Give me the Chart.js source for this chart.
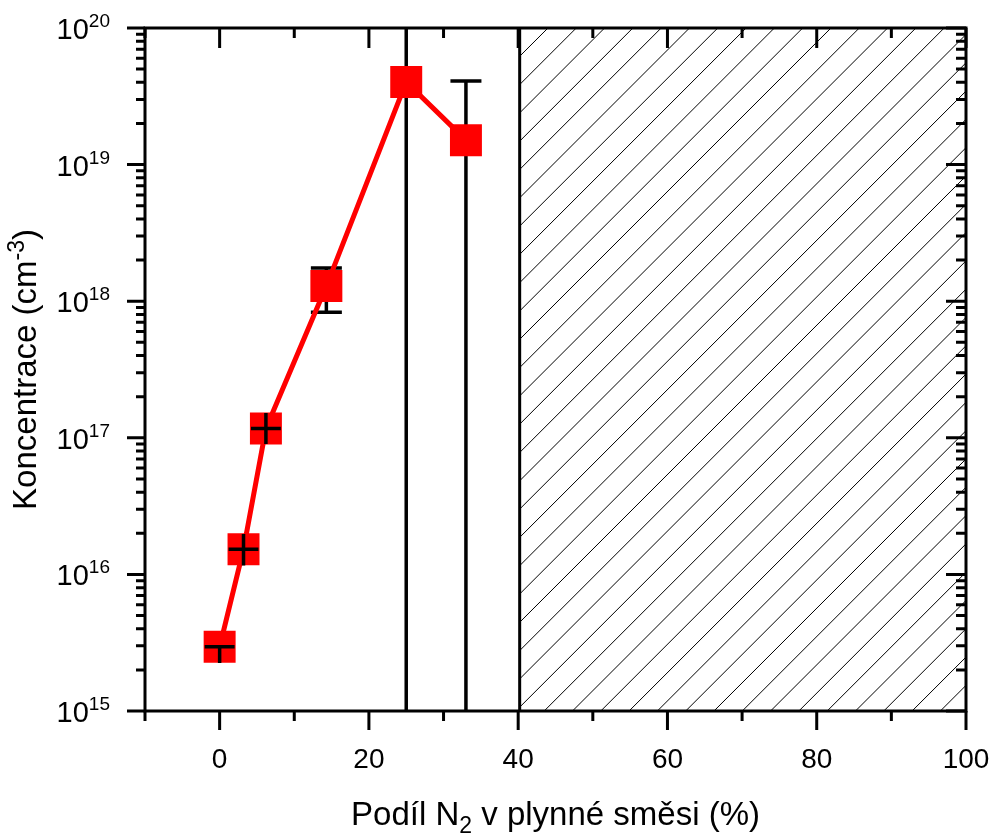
<!DOCTYPE html>
<html>
<head>
<meta charset="utf-8">
<script src="https://cdn.jsdelivr.net/npm/chart.js@4/dist/chart.umd.min.js"></script>
<style>
  html, body { margin: 0; padding: 0; background: #ffffff; }
  canvas { display: block; }
</style>
</head>
<body>
<canvas id="c" width="993" height="834"></canvas>
<script>
// N2 fraction in the gas mixture (%) and measured carrier concentration (cm^-3)
const nitrogenShare = [0, 3.2, 6.2, 14.3, 25, 33];
const concentration = [2.95e15, 1.53e16, 1.17e17, 1.29e18, 4.03e19, 1.51e19];
// concentration uncertainty (cm^-3), below and above the value
const concErrMinus = [0.7e15, 0.37e16, 0.27e17, 0.46e18, 8e19, 2.6e19];
const concErrPlus  = [0, 0.45e16, 0.35e17, 0.46e18, 8e19, 2.58e19];
// N2 fraction uncertainty (%)
const shareErr = [2, 2, 2, 0, 0, 0];

// axis ticks
const xMajorTicks = [0, 20, 40, 60, 80, 100];
const xMinorTicks = [-10, 10, 30, 50, 70, 90];
const yDecades = [15, 16, 17, 18, 19, 20];
const yMinorMultipliers = [2, 3, 4, 5, 6, 7, 8, 9];

// excluded range of the N2 fraction (hatched)
const hatchFrom = 40.2;
const hatchTo = 100;

const FONT = '"Liberation Sans", Arial, Helvetica, sans-serif';

const overlay = {
  id: 'overlay',
  beforeDatasetsDraw(chart) {
    const { ctx, chartArea: a, scales: { x, y } } = chart;
    ctx.save();
    ctx.beginPath();
    ctx.rect(a.left, a.top, a.right - a.left, a.bottom - a.top);
    ctx.clip();

    // hatched region
    const hx0 = x.getPixelForValue(hatchFrom);
    const hx1 = x.getPixelForValue(hatchTo);
    ctx.save();
    ctx.beginPath();
    ctx.rect(hx0, a.top, hx1 - hx0, a.bottom - a.top);
    ctx.clip();
    ctx.strokeStyle = '#000';
    ctx.lineWidth = 1;
    const h = a.bottom - a.top;
    const step = 28.3;
    ctx.beginPath();
    for (let sx = hx0; sx < hx1 + h; sx += step) {
      ctx.moveTo(sx, a.top);
      ctx.lineTo(sx - h, a.bottom);
    }
    ctx.stroke();
    ctx.restore();
    ctx.lineWidth = 3;
    ctx.beginPath();
    ctx.moveTo(hx0, a.top);
    ctx.lineTo(hx0, a.bottom);
    ctx.stroke();

    // capped concentration error bars, behind the markers
    ctx.strokeStyle = '#000';
    ctx.lineWidth = 3.5;
    nitrogenShare.forEach((v, i) => {
      if (shareErr[i] > 0) return;
      const px = x.getPixelForValue(v);
      const lo = concentration[i] - concErrMinus[i];
      const hi = concentration[i] + concErrPlus[i];
      const pyLo = lo > 0 ? y.getPixelForValue(lo) : a.bottom + 10;
      const pyHi = y.getPixelForValue(hi);
      ctx.beginPath();
      ctx.moveTo(px, pyLo);
      ctx.lineTo(px, pyHi);
      ctx.moveTo(px - 15.5, pyLo);
      ctx.lineTo(px + 15.5, pyLo);
      ctx.moveTo(px - 15.5, pyHi);
      ctx.lineTo(px + 15.5, pyHi);
      ctx.stroke();
    });
    ctx.restore();
  },
  afterDatasetsDraw(chart) {
    const { ctx, chartArea: a, scales: { x, y } } = chart;
    ctx.save();
    ctx.strokeStyle = '#000';
    ctx.fillStyle = '#000';

    // uncapped crosses for points with an N2 fraction uncertainty
    ctx.lineWidth = 3.5;
    nitrogenShare.forEach((v, i) => {
      if (!(shareErr[i] > 0)) return;
      const px = x.getPixelForValue(v);
      const py = y.getPixelForValue(concentration[i]);
      const pxL = x.getPixelForValue(v - shareErr[i]);
      const pxR = x.getPixelForValue(v + shareErr[i]);
      const pyLo = y.getPixelForValue(concentration[i] - concErrMinus[i]);
      const pyHi = y.getPixelForValue(concentration[i] + concErrPlus[i]);
      ctx.beginPath();
      ctx.moveTo(pxL, py);
      ctx.lineTo(pxR, py);
      ctx.moveTo(px, pyLo);
      ctx.lineTo(px, pyHi);
      ctx.stroke();
    });

    // frame
    ctx.lineWidth = 3;
    ctx.strokeRect(a.left, a.top, a.right - a.left, a.bottom - a.top);

    // x ticks: outward at the bottom, inward at the top
    ctx.beginPath();
    xMajorTicks.forEach(v => {
      const px = x.getPixelForValue(v);
      ctx.moveTo(px, a.bottom); ctx.lineTo(px, a.bottom + 19);
      ctx.moveTo(px, a.top); ctx.lineTo(px, a.top + 20);
    });
    xMinorTicks.forEach(v => {
      const px = x.getPixelForValue(v);
      ctx.moveTo(px, a.bottom); ctx.lineTo(px, a.bottom + 10);
      ctx.moveTo(px, a.top); ctx.lineTo(px, a.top + 10);
    });
    // y ticks: outward on the left, inward on the right
    yDecades.forEach(d => {
      const py = y.getPixelForValue(Math.pow(10, d));
      ctx.moveTo(a.left - 18, py); ctx.lineTo(a.left, py);
      ctx.moveTo(a.right - 20, py); ctx.lineTo(a.right, py);
      if (d < yDecades[yDecades.length - 1]) {
        yMinorMultipliers.forEach(m => {
          const pm = y.getPixelForValue(m * Math.pow(10, d));
          ctx.moveTo(a.left - 9, pm); ctx.lineTo(a.left, pm);
          ctx.moveTo(a.right - 10, pm); ctx.lineTo(a.right, pm);
        });
      }
    });
    ctx.stroke();

    // x tick labels
    ctx.font = '28px ' + FONT;
    ctx.textAlign = 'center';
    ctx.textBaseline = 'alphabetic';
    xMajorTicks.forEach(v => {
      ctx.fillText(String(v), x.getPixelForValue(v), a.bottom + 57);
    });

    // y tick labels: 10 with a superscript exponent
    yDecades.forEach(d => {
      const py = y.getPixelForValue(Math.pow(10, d));
      ctx.font = '19px ' + FONT;
      const ew = ctx.measureText(String(d)).width;
      const right = a.left - 35;
      ctx.textAlign = 'right';
      ctx.fillText(String(d), right, py - 1);
      ctx.font = '29px ' + FONT;
      ctx.fillText('10', right - ew, py + 11);
    });

    // x axis title with subscript
    const cx = (a.left + a.right) / 2;
    const parts = [['Podíl N', 33, 0], ['2', 23, 8], [' v plynné směsi (%)', 33, 0]];
    let total = 0;
    parts.forEach(p => { ctx.font = p[1] + 'px ' + FONT; total += ctx.measureText(p[0]).width; });
    let tx = cx - total / 2;
    ctx.textAlign = 'left';
    parts.forEach(p => {
      ctx.font = p[1] + 'px ' + FONT;
      ctx.fillText(p[0], tx, 825 + p[2]);
      tx += ctx.measureText(p[0]).width;
    });

    // y axis title with superscript, rotated
    const cy = (a.top + a.bottom) / 2;
    const yparts = [['Koncentrace (cm', 33, 0], ['-3', 23, -12], [')', 33, 0]];
    let ytotal = 0;
    yparts.forEach(p => { ctx.font = p[1] + 'px ' + FONT; ytotal += ctx.measureText(p[0]).width; });
    ctx.translate(36, cy);
    ctx.rotate(-Math.PI / 2);
    let ty = -ytotal / 2;
    yparts.forEach(p => {
      ctx.font = p[1] + 'px ' + FONT;
      ctx.fillText(p[0], ty, p[2]);
      ty += ctx.measureText(p[0]).width;
    });
    ctx.restore();
  }
};

new Chart(document.getElementById('c'), {
  type: 'line',
  data: {
    datasets: [{
      data: nitrogenShare.map((v, i) => ({ x: v, y: concentration[i] })),
      borderColor: '#ff0000',
      backgroundColor: '#ff0000',
      borderWidth: 5,
      pointStyle: 'rect',
      pointRadius: 22.6,
      pointBorderWidth: 0,
      pointBackgroundColor: '#ff0000',
      tension: 0
    }]
  },
  options: {
    responsive: false,
    animation: false,
    devicePixelRatio: 1,
    layout: { padding: { top: 28, right: 27, left: 0, bottom: 0 } },
    plugins: { legend: { display: false }, tooltip: { enabled: false } },
    scales: {
      x: {
        type: 'linear', min: -10, max: 100,
        grid: { display: false }, border: { display: false },
        ticks: { display: false },
        afterFit: s => { s.height = 123; }
      },
      y: {
        type: 'logarithmic', min: 1e15, max: 1e20,
        grid: { display: false }, border: { display: false },
        ticks: { display: false },
        afterFit: s => { s.width = 145; }
      }
    }
  },
  plugins: [overlay]
});
</script>
</body>
</html>
